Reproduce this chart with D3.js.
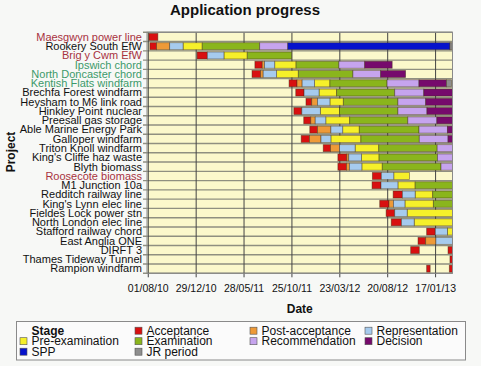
<!DOCTYPE html>
<html>
<head>
<meta charset="utf-8">
<script src="https://cdn.jsdelivr.net/npm/d3@7"></script>
<style>
  body { margin: 0; background: #f7f8f6; }
  svg { display: block; font-family: "Liberation Sans", Arial, sans-serif; }
</style>
</head>
<body>
<svg id="chart" width="481" height="366"></svg>
<script>
// Projects, top to bottom
const projects = [
  'Maesgwyn power line', 'Rookery South EfW', 'Brig y Cwm EfW', 'Ipswich chord',
  'North Doncaster chord', 'Kentish Flats windfarm', 'Brechfa Forest windfarm',
  'Heysham to M6 link road', 'Hinkley Point nuclear', 'Preesall gas storage',
  'Able Marine Energy Park', 'Galloper windfarm', 'Triton Knoll windfarm',
  "King's Cliffe haz waste", 'Blyth biomass', 'Roosecote biomass', 'M1 Junction 10a',
  'Redditch railway line', "King's Lynn elec line", 'Fieldes Lock power stn',
  'North London elec line', 'Stafford railway chord', 'East Anglia ONE', 'DIRFT 3',
  'Thames Tideway Tunnel', 'Rampion windfarm'
];
const withdrawn = ['Maesgwyn power line', 'Brig y Cwm EfW', 'Roosecote biomass'];
const decided = ['Ipswich chord', 'North Doncaster chord', 'Kentish Flats windfarm'];

const tickDates = ['2010-08-01', '2010-12-29', '2011-05-28', '2011-10-25', '2012-03-23', '2012-08-20', '2013-01-17'];
const startDate = '2010-07-28';
const endDate = '2013-03-11';

// [project, start, end] for each stage
const acceptance = [
  ['Maesgwyn power line', '2010-08-03', '2010-08-31'],
  ['Rookery South EfW', '2010-08-06', '2010-08-27'],
  ['Brig y Cwm EfW', '2011-01-01', '2011-02-02'],
  ['Ipswich chord', '2011-07-01', '2011-07-24'],
  ['North Doncaster chord', '2011-06-22', '2011-07-19'],
  ['Kentish Flats windfarm', '2011-10-16', '2011-11-10'],
  ['Brechfa Forest windfarm', '2011-11-06', '2011-12-02'],
  ['Heysham to M6 link road', '2011-12-08', '2011-12-26'],
  ['Hinkley Point nuclear', '2011-10-31', '2011-11-25'],
  ['Preesall gas storage', '2011-12-01', '2011-12-23'],
  ['Able Marine Energy Park', '2011-12-20', '2012-01-13'],
  ['Galloper windfarm', '2011-11-23', '2011-12-19'],
  ['Triton Knoll windfarm', '2012-01-31', '2012-02-23'],
  ["King's Cliffe haz waste", '2012-03-17', '2012-04-14'],
  ['Blyth biomass', '2012-03-17', '2012-04-13'],
  ['Roosecote biomass', '2012-07-03', '2012-07-31'],
  ['M1 Junction 10a', '2012-07-02', '2012-07-30'],
  ['Redditch railway line', '2012-09-06', '2012-10-05'],
  ["King's Lynn elec line", '2012-07-26', '2012-08-24'],
  ['Fieldes Lock power stn', '2012-08-15', '2012-09-11'],
  ['North London elec line', '2012-08-31', '2012-10-02'],
  ['Stafford railway chord', '2012-12-20', '2013-01-16'],
  ['East Anglia ONE', '2012-11-23', '2012-12-17'],
  ['DIRFT 3', '2012-10-31', '2012-11-27'],
  ['DIRFT 3', '2013-02-25', '2013-03-11'],
  ['Thames Tideway Tunnel', '2013-03-03', '2013-03-11'],
  ['Rampion windfarm', '2012-12-20', '2012-12-31'],
  ['Rampion windfarm', '2013-03-01', '2013-03-11']
];
const postAcceptance = [
  ['Rookery South EfW', '2010-08-27', '2010-10-07'],
  ['Ipswich chord', '2011-07-24', '2011-07-31'],
  ['North Doncaster chord', '2011-07-19', '2011-07-27'],
  ['Kentish Flats windfarm', '2011-11-10', '2011-11-26'],
  ['Heysham to M6 link road', '2011-12-26', '2012-01-13'],
  ['Preesall gas storage', '2011-12-23', '2012-01-06'],
  ['Able Marine Energy Park', '2012-01-13', '2012-02-24'],
  ['Galloper windfarm', '2011-12-19', '2012-01-24'],
  ['Triton Knoll windfarm', '2012-02-23', '2012-03-22'],
  ["King's Cliffe haz waste", '2012-04-14', '2012-04-20'],
  ['Blyth biomass', '2012-04-13', '2012-04-22'],
  ["King's Lynn elec line", '2012-08-24', '2012-09-07'],
  ['East Anglia ONE', '2012-12-17', '2013-01-18']
];
const representation = [
  ['Rookery South EfW', '2010-10-07', '2010-11-18'],
  ['Brig y Cwm EfW', '2011-02-02', '2011-03-26'],
  ['Ipswich chord', '2011-07-31', '2011-09-01'],
  ['North Doncaster chord', '2011-07-27', '2011-09-07'],
  ['Kentish Flats windfarm', '2011-11-26', '2012-01-04'],
  ['Brechfa Forest windfarm', '2011-12-02', '2012-01-18'],
  ['Heysham to M6 link road', '2012-01-13', '2012-02-21'],
  ['Hinkley Point nuclear', '2011-11-25', '2012-01-22'],
  ['Preesall gas storage', '2012-01-06', '2012-02-08'],
  ['Able Marine Energy Park', '2012-02-24', '2012-04-01'],
  ['Galloper windfarm', '2012-01-24', '2012-02-24'],
  ['Triton Knoll windfarm', '2012-03-22', '2012-05-10'],
  ["King's Cliffe haz waste", '2012-04-20', '2012-05-30'],
  ['Blyth biomass', '2012-04-22', '2012-05-31'],
  ['Roosecote biomass', '2012-07-31', '2012-09-08'],
  ['M1 Junction 10a', '2012-07-30', '2012-09-21'],
  ['Redditch railway line', '2012-10-05', '2012-11-14'],
  ["King's Lynn elec line", '2012-09-07', '2012-10-13'],
  ['Fieldes Lock power stn', '2012-09-11', '2012-10-20'],
  ['North London elec line', '2012-10-02', '2012-11-11'],
  ['Stafford railway chord', '2013-01-16', '2013-02-23'],
  ['East Anglia ONE', '2013-01-18', '2013-03-11']
];
const preExamination = [
  ['Rookery South EfW', '2010-11-18', '2011-01-17'],
  ['Brig y Cwm EfW', '2011-03-26', '2011-06-07'],
  ['Ipswich chord', '2011-09-01', '2011-11-07'],
  ['North Doncaster chord', '2011-09-07', '2011-11-14'],
  ['Kentish Flats windfarm', '2012-01-04', '2012-02-21'],
  ['Brechfa Forest windfarm', '2012-01-18', '2012-03-13'],
  ['Heysham to M6 link road', '2012-02-21', '2012-04-03'],
  ['Hinkley Point nuclear', '2012-01-22', '2012-03-22'],
  ['Preesall gas storage', '2012-02-08', '2012-04-23'],
  ['Able Marine Energy Park', '2012-04-01', '2012-05-23'],
  ['Galloper windfarm', '2012-02-24', '2012-05-28'],
  ['Triton Knoll windfarm', '2012-05-10', '2012-07-23'],
  ["King's Cliffe haz waste", '2012-05-30', '2012-07-24'],
  ['Blyth biomass', '2012-05-31', '2012-08-03'],
  ['Roosecote biomass', '2012-09-08', '2012-10-27'],
  ['M1 Junction 10a', '2012-09-21', '2012-11-14'],
  ['Redditch railway line', '2012-11-14', '2013-01-08'],
  ["King's Lynn elec line", '2012-10-13', '2013-01-10'],
  ['Fieldes Lock power stn', '2012-10-20', '2013-03-11'],
  ['North London elec line', '2012-11-11', '2013-03-11'],
  ['Stafford railway chord', '2013-02-23', '2013-03-11']
];
const examination = [
  ['Rookery South EfW', '2011-01-17', '2011-07-16'],
  ['Brig y Cwm EfW', '2011-06-07', '2011-10-24'],
  ['Ipswich chord', '2011-11-07', '2012-03-20'],
  ['North Doncaster chord', '2011-11-14', '2012-05-03'],
  ['Kentish Flats windfarm', '2012-02-21', '2012-08-18'],
  ['Brechfa Forest windfarm', '2012-03-13', '2012-09-11'],
  ['Heysham to M6 link road', '2012-04-03', '2012-09-21'],
  ['Hinkley Point nuclear', '2012-03-22', '2012-09-21'],
  ['Preesall gas storage', '2012-04-23', '2012-10-22'],
  ['Able Marine Energy Park', '2012-05-23', '2012-11-26'],
  ['Galloper windfarm', '2012-05-28', '2012-11-27'],
  ['Triton Knoll windfarm', '2012-07-23', '2013-01-22'],
  ["King's Cliffe haz waste", '2012-07-24', '2013-01-23'],
  ['Blyth biomass', '2012-08-03', '2013-02-03'],
  ['M1 Junction 10a', '2012-11-14', '2013-03-11'],
  ['Redditch railway line', '2013-01-08', '2013-03-11'],
  ["King's Lynn elec line", '2013-01-10', '2013-03-11']
];
const recommendation = [
  ['Rookery South EfW', '2011-07-16', '2011-10-12'],
  ['Ipswich chord', '2012-03-20', '2012-06-09'],
  ['North Doncaster chord', '2012-05-03', '2012-07-29'],
  ['Kentish Flats windfarm', '2012-08-18', '2012-11-26'],
  ['Brechfa Forest windfarm', '2012-09-11', '2012-12-11'],
  ['Heysham to M6 link road', '2012-09-21', '2012-12-17'],
  ['Hinkley Point nuclear', '2012-09-21', '2012-12-21'],
  ['Preesall gas storage', '2012-10-22', '2013-01-21'],
  ['Able Marine Energy Park', '2012-11-26', '2013-02-23'],
  ['Galloper windfarm', '2012-11-27', '2013-02-25'],
  ['Triton Knoll windfarm', '2013-01-22', '2013-03-11'],
  ["King's Cliffe haz waste", '2013-01-23', '2013-03-11'],
  ['Blyth biomass', '2013-02-03', '2013-03-11']
];
const decision = [
  ['Ipswich chord', '2012-06-09', '2012-09-03'],
  ['North Doncaster chord', '2012-07-29', '2012-10-15'],
  ['Kentish Flats windfarm', '2012-11-26', '2013-02-20'],
  ['Brechfa Forest windfarm', '2012-12-11', '2013-03-11'],
  ['Heysham to M6 link road', '2012-12-17', '2013-03-11'],
  ['Hinkley Point nuclear', '2012-12-21', '2013-03-11'],
  ['Preesall gas storage', '2013-01-21', '2013-03-11'],
  ['Able Marine Energy Park', '2013-02-23', '2013-03-11'],
  ['Galloper windfarm', '2013-02-25', '2013-03-11']
];
const spp = [
  ['Rookery South EfW', '2011-10-12', '2013-03-03']
];
const jrPeriod = [
  ['Kentish Flats windfarm', '2013-02-20', '2013-03-08'],
  ['Rookery South EfW', '2013-03-03', '2013-03-10']
];

const stages = [
  { name: 'Pre-examination', data: preExamination, color: '#f6f02a' },
  { name: 'Acceptance', data: acceptance, color: '#d81010' },
  { name: 'Post-acceptance', data: postAcceptance, color: '#ee9a38' },
  { name: 'Representation', data: representation, color: '#a6cbee' },
  { name: 'Examination', data: examination, color: '#8ab51c' },
  { name: 'Recommendation', data: recommendation, color: '#c6a4ee' },
  { name: 'Decision', data: decision, color: '#760a6c' },
  { name: 'SPP', data: spp, color: '#0612cc' },
  { name: 'JR period', data: jrPeriod, color: '#8e8e8e' }
];

const parse = d3.timeParse('%Y-%m-%d');
const svg = d3.select('#chart');

const m = { left: 147, right: 452.5, top: 32.3, bottom: 273.3 };

const x = d3.scaleTime()
  .domain([parse(startDate), parse(endDate)])
  .range([m.left, m.right]);

const y = d3.scaleBand()
  .domain(projects)
  .range([m.top, m.bottom]);

const barH = 7;

// title
svg.append('text')
  .attr('x', 245).attr('y', 14.5)
  .attr('text-anchor', 'middle')
  .attr('font-size', 15).attr('font-weight', 'bold')
  .attr('fill', '#111')
  .text('Application progress');

// plot background
svg.append('rect')
  .attr('x', m.left).attr('y', m.top)
  .attr('width', m.right - m.left).attr('height', m.bottom - m.top)
  .attr('fill', '#fbf8cb');

// horizontal row lines + left ticks
const rowEdges = projects.map(p => y(p)).concat([m.bottom]);
svg.append('g')
  .selectAll('line')
  .data(rowEdges)
  .enter()
  .append('line')
  .attr('x1', m.left - 4).attr('x2', m.right)
  .attr('y1', d => d).attr('y2', d => d)
  .attr('stroke', '#8f8f80')
  .attr('stroke-width', 1.4);

// vertical grid lines
svg.append('g')
  .selectAll('line')
  .data(tickDates)
  .enter()
  .append('line')
  .attr('x1', d => x(parse(d))).attr('x2', d => x(parse(d)))
  .attr('y1', m.top).attr('y2', m.bottom + 4)
  .attr('stroke', '#444')
  .attr('stroke-width', 1);

// bars
stages.forEach(s => {
  svg.append('g')
    .selectAll('rect')
    .data(s.data)
    .enter()
    .append('rect')
    .attr('x', d => x(parse(d[1])))
    .attr('y', d => y(d[0]) + (y.bandwidth() - barH) / 2)
    .attr('width', d => Math.max(1, x(parse(d[2])) - x(parse(d[1]))))
    .attr('height', barH)
    .attr('fill', s.color)
    .attr('stroke', '#3a2a1a')
    .attr('stroke-opacity', 0.55)
    .attr('stroke-width', 0.8);
});

// plot border
svg.append('rect')
  .attr('x', m.left).attr('y', m.top)
  .attr('width', m.right - m.left).attr('height', m.bottom - m.top)
  .attr('fill', 'none')
  .attr('stroke', '#8a8a8a')
  .attr('stroke-width', 1);

// x tick labels
svg.append('g')
  .selectAll('text')
  .data(tickDates)
  .enter()
  .append('text')
  .attr('x', d => x(parse(d)))
  .attr('y', 292)
  .attr('text-anchor', 'middle')
  .attr('font-size', 10.5)
  .attr('fill', '#111')
  .text(d => d3.timeFormat('%d/%m/%y')(parse(d)));

svg.append('text')
  .attr('x', (m.left + m.right) / 2).attr('y', 312.5)
  .attr('text-anchor', 'middle')
  .attr('font-size', 12).attr('font-weight', 'bold')
  .attr('fill', '#111')
  .text('Date');

// y labels
svg.append('g')
  .selectAll('text')
  .data(projects)
  .enter()
  .append('text')
  .attr('x', 142)
  .attr('y', d => y(d) + y.bandwidth() / 2 + 3.8)
  .attr('text-anchor', 'end')
  .attr('font-size', 11)
  .attr('fill', d => withdrawn.includes(d) ? '#a8323e' : decided.includes(d) ? '#3c9a6a' : '#111')
  .text(d => d);

svg.append('text')
  .attr('transform', 'translate(15,152) rotate(-90)')
  .attr('text-anchor', 'middle')
  .attr('font-size', 12).attr('font-weight', 'bold')
  .attr('fill', '#111')
  .text('Project');

// legend
const lg = svg.append('g');
lg.append('rect')
  .attr('x', 16.5).attr('y', 321.5)
  .attr('width', 449).attr('height', 38.5)
  .attr('fill', '#fbfbfb')
  .attr('stroke', '#8a8a8a');

const legendOrder = ['Stage', 'Acceptance', 'Post-acceptance', 'Representation',
  'Pre-examination', 'Examination', 'Recommendation', 'Decision', 'SPP', 'JR period'];
const colX = [20, 135, 250, 365];

legendOrder.forEach((name, i) => {
  const cx = colX[i % 4];
  const cy = 330.7 + Math.floor(i / 4) * 10.5;
  if (name === 'Stage') {
    lg.append('text')
      .attr('x', cx + 11.5).attr('y', cy + 4.2)
      .attr('font-size', 12).attr('font-weight', 'bold')
      .attr('fill', '#111')
      .text(name);
    return;
  }
  const s = stages.find(t => t.name === name);
  lg.append('rect')
    .attr('x', cx).attr('y', cy - 3.5)
    .attr('width', 7).attr('height', 7)
    .attr('fill', s.color)
    .attr('stroke', '#555').attr('stroke-width', 0.6);
  lg.append('text')
    .attr('x', cx + 11.5).attr('y', cy + 4.2)
    .attr('font-size', 12)
    .attr('fill', '#111')
    .text(name);
});
</script>
</body>
</html>
